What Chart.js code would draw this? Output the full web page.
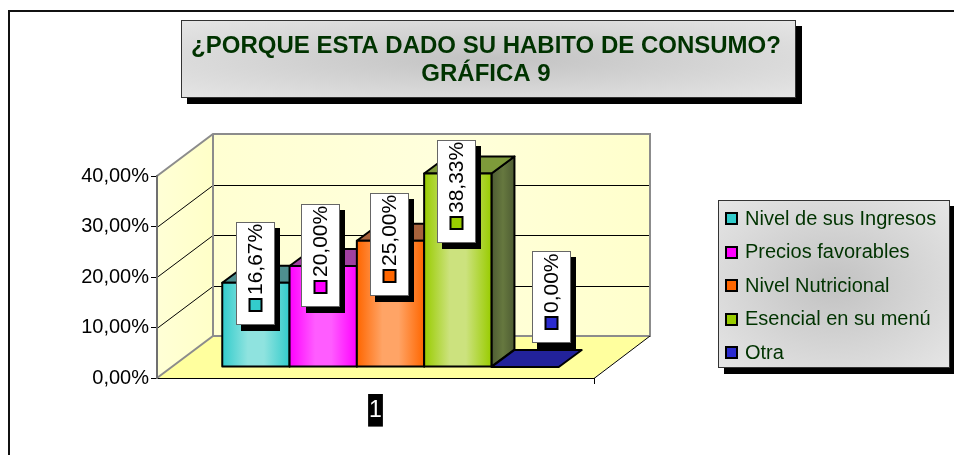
<!DOCTYPE html>
<html>
<head>
<meta charset="utf-8">
<script src="https://cdn.jsdelivr.net/npm/chart.js@4/dist/chart.umd.min.js"></script>
<style>
html,body{margin:0;padding:0;background:#fff;}
#wrap{position:relative;width:954px;height:455px;}
</style>
</head>
<body>
<div id="wrap"><canvas id="c" width="954" height="455"></canvas></div>
<script>
// ---- data ----
const categories = ['1'];
const seriesNames = ['Nivel de sus Ingresos', 'Precios favorables', 'Nivel Nutricional', 'Esencial en su menú', 'Otra'];
const seriesValues = [16.67, 20.00, 25.00, 38.33, 0.00];
const yTickValues = [0, 10, 20, 30, 40];
const titleLines = ['¿PORQUE ESTA DADO SU HABITO DE CONSUMO?', 'GRÁFICA 9'];

// ---- styles ----
const baseColors  = ['#33CCCC', '#FF00FF', '#FF6600', '#99CC00', '#2B2BD0'];
const lightColors = ['#8FE3DF', '#FF5CFF', '#FFA466', '#CCE27E', '#4A4AF0'];
const topColors   = ['#4E8F8F', '#A040A0', '#A8623C', '#7E9A3A', '#22229A'];
const sideColors  = ['#2E6E6E', '#7A1F7A', '#8A4A1A', '#4E5C33', '#10105A'];
const sideMid     = ['#3E8080', '#8A2F8A', '#9A5A2A', '#66783F', '#20207A'];
const labelNudge  = [[-0.5, -9.5], [-3, -10.5], [-1.5, 4], [-1.5, 18.5], [26, -70.5]];
const WALL_D = [56, -42];   // depth of the 3D box
const BAR_SHIFT = [15, -11]; // bars sit inside the box
const BAR_D = [23, -17];    // bar depth
const TXT = '#003300';

function fmtPct(v) { return v.toFixed(2).replace('.', ',') + '%'; }

function grayBox(ctx, x, y, w, h) {
  ctx.fillStyle = '#000';
  ctx.fillRect(x + 6, y + 6, w, h);
  ctx.save();
  ctx.beginPath(); ctx.rect(x, y, w, h); ctx.clip();
  ctx.translate(x + w / 2, y + h / 2);
  ctx.scale(w / h, 1);
  const g = ctx.createRadialGradient(0, 0, 0, 0, 0, h * 0.75);
  g.addColorStop(0, '#C2C2C2');
  g.addColorStop(1, '#E8E8E8');
  ctx.fillStyle = g;
  ctx.fillRect(-h, -h, 2 * h, 2 * h);
  ctx.restore();
  ctx.strokeStyle = '#333';
  ctx.lineWidth = 1;
  ctx.strokeRect(x + 0.5, y + 0.5, w - 1, h - 1);
}

const threeD = {
  id: 'threeD',
  beforeDraw(chart) {
    const ctx = chart.ctx, a = chart.chartArea, ys = chart.scales.y;
    const L = a.left, R = a.right, y0 = ys.getPixelForValue(0), yT = ys.getPixelForValue(40);
    const [dx, dy] = WALL_D;
    ctx.save();
    ctx.fillStyle = '#fff';
    ctx.fillRect(0, 0, chart.width, chart.height);
    // frame
    ctx.strokeStyle = '#111'; ctx.lineWidth = 2;
    ctx.beginPath(); ctx.moveTo(9, 455); ctx.lineTo(9, 11); ctx.lineTo(954, 11); ctx.stroke();
    // back wall
    let g = ctx.createLinearGradient(L + dx, 0, R + dx, 0);
    g.addColorStop(0, '#FFFFD2'); g.addColorStop(0.5, '#FFFFDC'); g.addColorStop(1, '#FFFFCC');
    ctx.fillStyle = g;
    ctx.fillRect(L + dx, yT + dy, R - L, y0 - yT);
    // left wall
    g = ctx.createLinearGradient(L, 0, L + dx, 0);
    g.addColorStop(0, '#FFFFD6'); g.addColorStop(1, '#FFFFC8');
    ctx.fillStyle = g;
    ctx.beginPath();
    ctx.moveTo(L, yT); ctx.lineTo(L + dx, yT + dy); ctx.lineTo(L + dx, y0 + dy); ctx.lineTo(L, y0); ctx.closePath(); ctx.fill();
    // floor
    ctx.fillStyle = '#FFFF9E';
    ctx.beginPath();
    ctx.moveTo(L, y0); ctx.lineTo(R, y0); ctx.lineTo(R + dx, y0 + dy); ctx.lineTo(L + dx, y0 + dy); ctx.closePath(); ctx.fill();
    // gridlines
    ctx.strokeStyle = '#000'; ctx.lineWidth = 1;
    yTickValues.forEach(v => {
      if (v === 0 || v === 40) return;
      const y = Math.round(ys.getPixelForValue(v)) + 0.5;
      ctx.beginPath(); ctx.moveTo(L, y); ctx.lineTo(L + dx, y + dy); ctx.lineTo(R + dx, y + dy); ctx.stroke();
    });
    // gray wall edges
    ctx.strokeStyle = '#8C8C8C'; ctx.lineWidth = 2;
    ctx.beginPath();
    ctx.moveTo(L, yT); ctx.lineTo(L + dx, yT + dy); ctx.lineTo(R + dx, yT + dy); ctx.lineTo(R + dx, y0 + dy);
    ctx.lineTo(L + dx, y0 + dy); ctx.lineTo(L, y0);
    ctx.moveTo(L + dx, yT + dy); ctx.lineTo(L + dx, y0 + dy);
    ctx.stroke();
    // black floor edges
    ctx.strokeStyle = '#000'; ctx.lineWidth = 1;
    ctx.beginPath();
    ctx.moveTo(L, y0 + 0.5); ctx.lineTo(R, y0 + 0.5); ctx.lineTo(R + dx, y0 + dy);
    ctx.moveTo(R + 0.5, y0); ctx.lineTo(R + 0.5, y0 + 6);
    ctx.stroke();
    ctx.restore();
  },
  beforeDatasetsDraw(chart) {
    const ctx = chart.ctx;
    ctx.save();
    ctx.translate(BAR_SHIFT[0], BAR_SHIFT[1]);
    const [bx, by] = BAR_D;
    chart.data.datasets.forEach((ds, i) => {
      const el = chart.getDatasetMeta(i).data[0];
      const p = el.getProps(['x', 'y', 'base', 'width'], true);
      const l = p.x - p.width / 2, r = p.x + p.width / 2;
      ctx.lineWidth = 2; ctx.strokeStyle = '#000'; ctx.lineJoin = 'round';
      // side
      if (p.base - p.y > 0.5) {
        const g = ctx.createLinearGradient(r, 0, r + bx, 0);
        g.addColorStop(0, sideColors[i]); g.addColorStop(0.5, sideMid[i]); g.addColorStop(1, sideColors[i]);
        ctx.fillStyle = g;
        ctx.beginPath();
        ctx.moveTo(r, p.y); ctx.lineTo(r + bx, p.y + by); ctx.lineTo(r + bx, p.base + by); ctx.lineTo(r, p.base); ctx.closePath();
        ctx.fill(); ctx.stroke();
      }
      // top
      ctx.fillStyle = topColors[i];
      ctx.beginPath();
      ctx.moveTo(l, p.y); ctx.lineTo(r, p.y); ctx.lineTo(r + bx, p.y + by); ctx.lineTo(l + bx, p.y + by); ctx.closePath();
      ctx.fill(); ctx.stroke();
    });
  },
  afterDatasetsDraw(chart) {
    const ctx = chart.ctx;
    // gradient front faces (still translated)
    chart.data.datasets.forEach((ds, i) => {
      const el = chart.getDatasetMeta(i).data[0];
      const p = el.getProps(['x', 'y', 'base', 'width'], true);
      const l = p.x - p.width / 2, h = p.base - p.y;
      if (h < 0.5) return;
      const g = ctx.createLinearGradient(l, 0, l + p.width, 0);
      g.addColorStop(0, baseColors[i]); g.addColorStop(0.38, lightColors[i]);
      g.addColorStop(0.62, lightColors[i]); g.addColorStop(1, baseColors[i]);
      ctx.fillStyle = g;
      ctx.fillRect(l, p.y, p.width, h);
      ctx.strokeStyle = '#000'; ctx.lineWidth = 2;
      ctx.strokeRect(l, p.y, p.width, h);
    });
    ctx.restore();
    // data labels
    chart.data.datasets.forEach((ds, i) => {
      const el = chart.getDatasetMeta(i).data[0];
      const p = el.getProps(['x', 'y'], true);
      const cx = p.x + BAR_SHIFT[0] + labelNudge[i][0];
      const cy = p.y + BAR_SHIFT[1] + labelNudge[i][1];
      const text = fmtPct(ds.data[0]);
      ctx.save();
      ctx.font = '21px Arial, "Liberation Sans", sans-serif';
      const tw = ctx.measureText(text).width;
      const W = 39, H = Math.round(tw + 32);
      const x = Math.round(cx - W / 2), y = Math.round(cy - H / 2);
      ctx.fillStyle = '#000'; ctx.fillRect(x + 5, y + 6, W, H);
      ctx.fillStyle = '#fff'; ctx.fillRect(x, y, W, H);
      ctx.strokeStyle = '#666'; ctx.lineWidth = 1; ctx.strokeRect(x + 0.5, y + 0.5, W - 1, H - 1);
      ctx.fillStyle = baseColors[i]; ctx.fillRect(x + W / 2 - 6, y + H - 26, 12, 12);
      ctx.strokeStyle = '#000'; ctx.lineWidth = 2; ctx.strokeRect(x + W / 2 - 6, y + H - 26, 12, 12);
      ctx.beginPath(); ctx.rect(x + 1, y + 1, W - 2, H - 2); ctx.clip();
      ctx.translate(x + W / 2 + 1, y + H - 30);
      ctx.rotate(-Math.PI / 2);
      ctx.fillStyle = '#000'; ctx.textAlign = 'left'; ctx.textBaseline = 'middle';
      ctx.fillText(text, 0, 0);
      ctx.restore();
    });
  },
  afterDraw(chart) {
    const ctx = chart.ctx;
    ctx.save();
    // title
    grayBox(ctx, 181, 20, 615, 78);
    ctx.fillStyle = TXT; ctx.textAlign = 'center'; ctx.textBaseline = 'middle';
    ctx.font = 'bold 24px Arial, "Liberation Sans", sans-serif';
    ctx.fillText(titleLines[0], 486, 46);
    ctx.fillText(titleLines[1], 486, 74);
    // legend
    grayBox(ctx, 718, 200, 232, 168);
    ctx.textAlign = 'left';
    ctx.font = '20px Arial, "Liberation Sans", sans-serif';
    chart.data.datasets.forEach((ds, i) => {
      const yc = 218 + i * 33.5;
      ctx.fillStyle = baseColors[i];
      ctx.fillRect(726, Math.round(yc) - 5, 11, 11);
      ctx.strokeStyle = '#000'; ctx.lineWidth = 2;
      ctx.strokeRect(726, Math.round(yc) - 5, 11, 11);
      ctx.fillStyle = TXT;
      ctx.fillText(ds.label, 745, yc + 1);
    });
    ctx.restore();
  }
};

const ctx = document.getElementById('c').getContext('2d');
new Chart(ctx, {
  type: 'bar',
  data: {
    labels: categories,
    datasets: seriesNames.map((n, i) => ({
      label: n,
      data: [seriesValues[i]],
      backgroundColor: baseColors[i],
      borderColor: '#000',
      borderWidth: 2,
      borderSkipped: false,
      categoryPercentage: 0.77,
      barPercentage: 1.0
    }))
  },
  options: {
    responsive: false,
    animation: false,
    devicePixelRatio: 1,
    layout: { padding: { left: 0, right: 360, top: 176, bottom: 0 } },
    plugins: { legend: { display: false }, title: { display: false }, tooltip: { enabled: false } },
    scales: {
      x: {
        grid: { display: false, drawTicks: false },
        border: { display: false },
        ticks: {
          font: { family: 'Arial', size: 23 },
          color: '#fff',
          padding: 19,
          showLabelBackdrop: true,
          backdropColor: '#000',
          backdropPadding: { top: 3, bottom: 2, left: 1, right: 1 }
        },
        afterFit: s => { s.height = 77; }
      },
      y: {
        min: 0, max: 40,
        afterBuildTicks: s => { s.ticks = yTickValues.map(v => ({ value: v })); },
        ticks: { font: { family: 'Arial', size: 20 }, color: '#000', padding: 2, callback: v => fmtPct(v) },
        grid: { drawOnChartArea: false, tickLength: 6, color: '#000' },
        border: { display: true, color: '#707070', width: 2 },
        afterFit: s => { s.width = 157; }
      }
    }
  },
  plugins: [threeD]
});
</script>
</body>
</html>
